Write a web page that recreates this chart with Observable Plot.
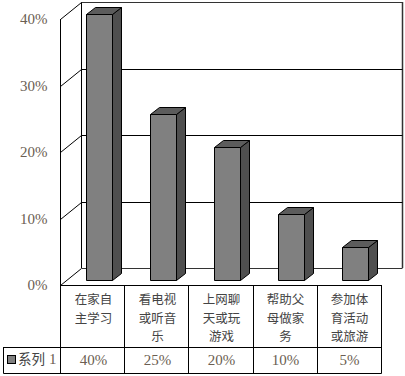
<!DOCTYPE html>
<html>
<head>
<meta charset="utf-8">
<script src="https://cdn.jsdelivr.net/npm/d3@7"></script>
<script src="https://cdn.jsdelivr.net/npm/@observablehq/plot@0.6"></script>
<style>
  html, body { margin: 0; padding: 0; background: #fff; }
  #chart svg { display: block; }
</style>
</head>
<body>
<div id="chart"></div>
<script>
const categories = ["在家自主学习", "看电视或听音乐", "上网聊天或玩游戏", "帮助父母做家务", "参加体育活动或旅游"];
const values = [40, 25, 20, 10, 5];
const yTicks = [0, 10, 20, 30, 40];
const seriesName = "系列";
const seriesNum = "1";

const numColor = "#6b5e52";
const cjkColor = "#444";
const serif = "'Liberation Serif', 'Times New Roman', serif";
const cjk = "'Noto Sans CJK SC', sans-serif";

// 3D geometry (styles)
const wallDX = 21, wallDY = -17;   // back wall offset
const barDX = 6, barDY = -5;       // bar front plane offset
const depthDX = 9, depthDY = -7;   // bar depth
const barW = 26;

const wrap = s => s.match(/.{1,3}/g).join("\n");
const rows = categories.map((c, i) => ({cat: c, v: values[i]}));

function frameMark(index, scales, vals, dims) {
  const y = scales.y;
  const ml = dims.marginLeft, mr = dims.marginRight, W = dims.width;
  const x0 = ml, x1 = W - mr;
  const g = d3.create("svg:g").attr("fill", "none").attr("stroke", "#000").attr("stroke-width", 1);
  g.append("line").attr("x1", x0 + 0.5).attr("x2", x0 + 0.5).attr("y1", y(0)).attr("y2", y(40));
  g.append("line").attr("x1", x0 + wallDX + 0.5).attr("x2", x0 + wallDX + 0.5).attr("y1", y(0) + wallDY).attr("y2", y(40) + wallDY);
  g.append("line").attr("x1", x1 + wallDX + 0.5).attr("x2", x1 + wallDX + 0.5).attr("y1", y(0) + wallDY).attr("y2", y(40) + wallDY).attr("stroke", "#333").attr("stroke-width", 1.5);
  for (const t of yTicks) {
    const yy = Math.round(y(t)) + 0.5;
    g.append("line").attr("x1", x0 + 0.5).attr("y1", yy).attr("x2", x0 + wallDX + 0.5).attr("y2", yy + wallDY);
    g.append("line").attr("x1", x0 + wallDX + 0.5).attr("y1", yy + wallDY).attr("x2", x1 + wallDX + 0.5).attr("y2", yy + wallDY)
      .attr("stroke", t === 0 || t === 40 ? "#333" : "#000");
  }
  return g.node();
}

function barsMark(index, scales, vals, dims) {
  const {x, y} = scales;
  const step = (dims.width - dims.marginLeft - dims.marginRight) / categories.length;
  const g = d3.create("svg:g").attr("stroke", "#000").attr("stroke-width", 1).attr("stroke-linejoin", "round");
  rows.forEach(r => {
    const left = Math.round(x(r.cat) + (step - barW) / 2 + barDX) + 0.5;
    const right = left + barW;
    const top = Math.round(y(r.v) + barDY) + 0.5;
    const bot = Math.round(y(0) + barDY) + 0.5;
    g.append("polygon").attr("fill", "#4f4f4f")
      .attr("points", [[right, top], [right + depthDX, top + depthDY], [right + depthDX, bot + depthDY], [right, bot]].join(" "));
    g.append("polygon").attr("fill", "#5c5c5c")
      .attr("points", [[left, top], [left + depthDX, top + depthDY], [right + depthDX, top + depthDY], [right, top]].join(" "));
    g.append("rect").attr("fill", "#808080").attr("x", left).attr("y", top).attr("width", barW).attr("height", bot - top);
  });
  return g.node();
}

function tableMark(index, scales, vals, dims) {
  const ml = dims.marginLeft, mr = dims.marginRight, W = dims.width;
  const yb = dims.height - dims.marginBottom;
  const step = (W - ml - mr) / categories.length;
  const rowY = yb + 62, botY = yb + 88, legL = 3;
  const g = d3.create("svg:g");
  const lines = g.append("g").attr("stroke", "#000").attr("stroke-width", 1);
  lines.append("line").attr("x1", ml).attr("x2", W - mr + 0.5).attr("y1", yb + 0.5).attr("y2", yb + 0.5);
  for (let i = 0; i <= categories.length; i++) {
    const xx = Math.round(ml + i * step) + 0.5;
    lines.append("line").attr("x1", xx).attr("x2", xx).attr("y1", yb).attr("y2", botY + 0.5);
  }
  lines.append("line").attr("x1", legL + 0.5).attr("x2", W - mr + 0.5).attr("y1", rowY + 0.5).attr("y2", rowY + 0.5);
  lines.append("line").attr("x1", legL + 0.5).attr("x2", W - mr + 0.5).attr("y1", botY + 0.5).attr("y2", botY + 0.5);
  lines.append("line").attr("x1", legL + 0.5).attr("x2", legL + 0.5).attr("y1", rowY).attr("y2", botY + 0.5);
  const cy = (rowY + botY) / 2;
  g.append("rect").attr("x", legL + 4.5).attr("y", cy - 4.5).attr("width", 8).attr("height", 8)
    .attr("fill", "#808080").attr("stroke", "#000");
  const t = g.append("text").attr("x", legL + 15).attr("y", cy).attr("dy", "0.35em").attr("text-anchor", "start");
  t.append("tspan").attr("font-family", cjk).attr("font-size", 13.5).attr("fill", cjkColor).text(seriesName);
  t.append("tspan").attr("font-family", serif).attr("font-size", 15).attr("fill", numColor).attr("dx", 4).text(seriesNum);
  return g.node();
}

const chart = Plot.plot({
  width: 405,
  height: 376,
  marginLeft: 60,
  marginRight: 24,
  marginTop: 19,
  marginBottom: 91,
  x: {type: "band", domain: categories, padding: 0, axis: null},
  y: {domain: [0, 40], axis: null},
  marks: [
    frameMark,
    barsMark,
    tableMark,
    Plot.text(yTicks, {y: d => d, text: d => d + "%", frameAnchor: "left", textAnchor: "end", dx: -13,
      fontFamily: serif, fontSize: 15, fill: numColor}),
    Plot.text(categories, {x: d => d, text: wrap, frameAnchor: "bottom", lineAnchor: "top", dy: 6,
      lineHeight: 1.46, fontFamily: cjk, fontSize: 12.5, fill: cjkColor}),
    Plot.text(rows, {x: "cat", text: d => d.v + "%", frameAnchor: "bottom", lineAnchor: "middle", dy: 75,
      fontFamily: serif, fontSize: 15, fill: numColor})
  ]
});
document.getElementById("chart").appendChild(chart);
</script>
</body>
</html>
